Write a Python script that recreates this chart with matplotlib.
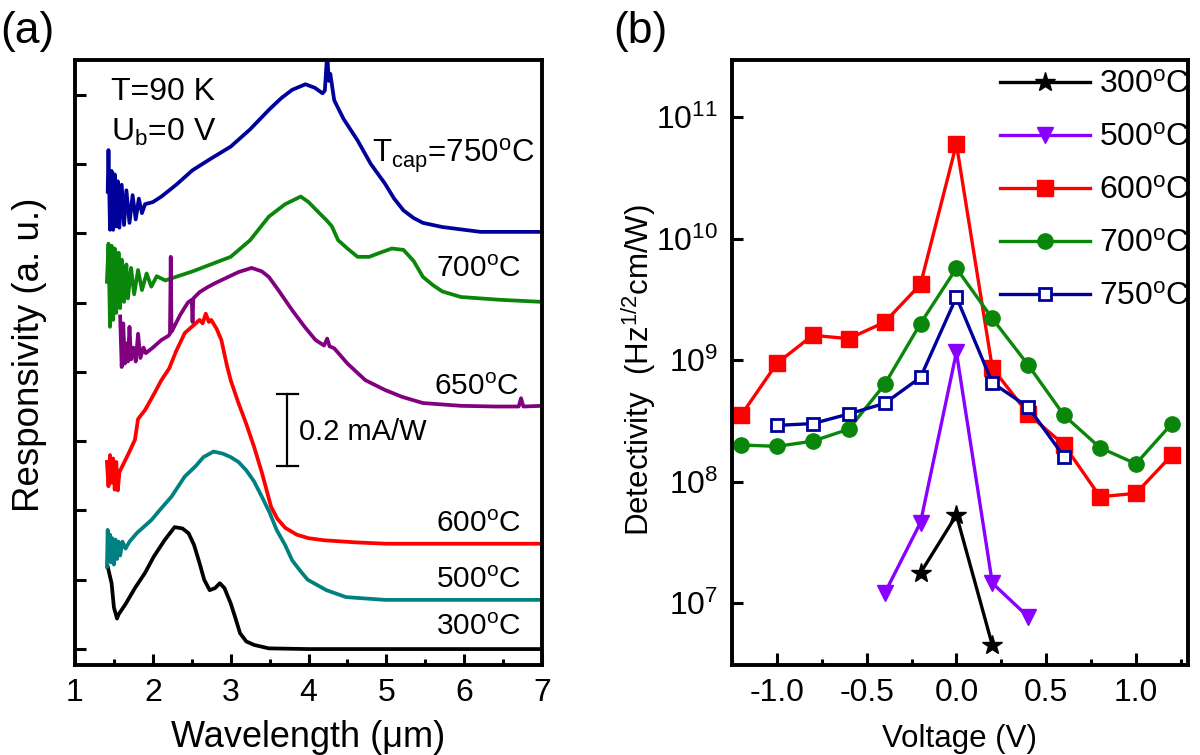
import matplotlib
matplotlib.use("Agg")
import matplotlib.pyplot as plt
import numpy as np
from matplotlib.ticker import MultipleLocator, NullLocator, FixedLocator

plt.rcParams["font.family"] = ["Liberation Sans", "DejaVu Sans"]
plt.rcParams["mathtext.fontset"] = "custom"
plt.rcParams["mathtext.rm"] = "Liberation Sans"
plt.rcParams["mathtext.it"] = "Liberation Sans:italic"
plt.rcParams["mathtext.bf"] = "Liberation Sans:bold"

# ---- panel (a): responsivity spectra, offset stacked (arbitrary units) ----
wl_300 = [1.42, 1.47, 1.50, 1.54, 1.56, 1.65, 1.77, 1.90, 2.01, 2.15, 2.28, 2.38, 2.46,
          2.53, 2.60, 2.66, 2.73, 2.80, 2.86, 2.92, 3.00, 3.06, 3.12, 3.20, 3.30, 3.49,
          4.00, 5.00, 6.00, 7.00]
r_300 = [1.19, 0.95, 0.60, 0.44, 0.50, 0.65, 0.88, 1.10, 1.33, 1.57, 1.76, 1.74, 1.67,
         1.50, 1.24, 1.00, 0.85, 0.88, 0.95, 0.88, 0.66, 0.45, 0.23, 0.11, 0.06, 0.01,
         0.00, 0.00, 0.00, 0.00]

wl_500 = [1.41, 1.42, 1.43, 1.45, 1.46, 1.48, 1.50, 1.52, 1.54, 1.56, 1.58, 1.61, 1.65,
          1.70, 1.80, 1.98, 2.10, 2.24, 2.41, 2.55, 2.65, 2.78, 2.90, 3.00, 3.10, 3.20,
          3.30, 3.40, 3.50, 3.59, 3.70, 3.79, 3.90, 3.99, 4.23, 4.48, 4.98, 5.50, 6.00,
          6.50, 7.00]
r_500 = [1.19, 1.72, 1.30, 1.65, 1.25, 1.60, 1.22, 1.58, 1.30, 1.55, 1.35, 1.55, 1.45,
         1.55, 1.68, 1.86, 2.02, 2.20, 2.49, 2.64, 2.77, 2.85, 2.82, 2.77, 2.70, 2.58,
         2.42, 2.20, 1.97, 1.72, 1.50, 1.28, 1.12, 1.00, 0.85, 0.75, 0.71, 0.71, 0.71,
         0.71, 0.71]

wl_600 = [1.41, 1.43, 1.45, 1.47, 1.49, 1.51, 1.53, 1.55, 1.57, 1.60, 1.70, 1.77, 1.81,
          1.90, 2.00, 2.11, 2.21, 2.30, 2.41, 2.50, 2.60, 2.64, 2.68, 2.72, 2.75, 2.82,
          2.88, 2.95, 3.00, 3.10, 3.20, 3.30, 3.40, 3.52, 3.60, 3.70, 3.85, 4.00, 4.20,
          4.60, 5.00, 6.00, 7.00]
r_600 = [2.70, 2.35, 2.80, 2.40, 2.75, 2.30, 2.70, 2.29, 2.55, 2.62, 2.85, 3.02, 3.32,
         3.45, 3.65, 3.88, 4.05, 4.30, 4.56, 4.65, 4.75, 4.70, 4.84, 4.72, 4.75, 4.62,
         4.46, 4.10, 3.88, 3.55, 3.25, 2.92, 2.55, 2.05, 1.88, 1.75, 1.65, 1.60, 1.57,
         1.54, 1.52, 1.52, 1.52]

wl_650 = [1.58, 1.60, 1.62, 1.64, 1.66, 1.68, 1.70, 1.72, 1.75, 1.78, 1.81, 1.84, 1.88,
          1.91, 2.00, 2.11, 2.20, 2.22, 2.23, 2.24, 2.26, 2.35, 2.45, 2.50, 2.51, 2.52,
          2.60, 2.70, 2.80, 2.95, 3.10, 3.27, 3.40, 3.49, 3.60, 3.79, 3.95, 4.09, 4.20,
          4.24, 4.27, 4.33, 4.50, 4.73, 4.98, 5.20, 5.47, 5.96, 6.40, 6.70, 6.73, 6.76,
          7.00]
r_650 = [4.80, 4.07, 4.70, 4.12, 4.41, 4.15, 4.65, 4.18, 4.35, 4.15, 4.55, 4.20, 4.35,
         4.27, 4.35, 4.46, 4.52, 4.55, 5.66, 4.58, 4.62, 4.82, 5.00, 5.04, 4.72, 5.06,
         5.15, 5.22, 5.28, 5.36, 5.44, 5.50, 5.45, 5.37, 5.20, 4.89, 4.65, 4.46, 4.38,
         4.48, 4.37, 4.34, 4.12, 3.88, 3.74, 3.64, 3.55, 3.51, 3.50, 3.50, 3.62, 3.50,
         3.51]

wl_700 = [1.41, 1.43, 1.45, 1.47, 1.49, 1.51, 1.53, 1.56, 1.58, 1.60, 1.63, 1.66, 1.68,
          1.72, 1.76, 1.81, 1.86, 1.92, 1.98, 2.05, 2.16, 2.51, 3.00, 3.25, 3.49, 3.70,
          3.90, 4.00, 4.14, 4.23, 4.30, 4.38, 4.50, 4.63, 4.78, 4.92, 5.07, 5.22, 5.35,
          5.47, 5.60, 5.72, 5.96, 6.46, 7.00]
r_700 = [5.30, 5.85, 4.65, 5.82, 4.75, 5.78, 4.85, 5.72, 4.92, 5.62, 5.01, 5.55, 5.06,
         5.50, 5.12, 5.47, 5.18, 5.42, 5.23, 5.38, 5.32, 5.45, 5.66, 5.90, 6.24, 6.42,
         6.53, 6.45, 6.29, 6.19, 6.10, 5.90, 5.78, 5.66, 5.66, 5.72, 5.78, 5.76, 5.60,
         5.37, 5.25, 5.16, 5.08, 5.04, 5.01]

wl_750 = [1.42, 1.43, 1.45, 1.47, 1.49, 1.51, 1.53, 1.55, 1.57, 1.60, 1.63, 1.66, 1.70,
          1.74, 1.78, 1.82, 1.86, 1.90, 2.00, 2.11, 2.30, 2.51, 2.75, 3.00, 3.25, 3.49,
          3.65, 3.79, 3.96, 4.08, 4.18, 4.21, 4.24, 4.26, 4.28, 4.33, 4.45, 4.63, 4.80,
          4.98, 5.10, 5.22, 5.35, 5.47, 5.72, 6.21, 6.60, 7.00]
r_750 = [6.60, 7.20, 6.05, 6.90, 6.05, 6.85, 6.10, 6.75, 6.08, 6.70, 6.12, 6.62, 6.15,
         6.55, 6.20, 6.50, 6.29, 6.42, 6.45, 6.53, 6.70, 6.91, 7.08, 7.25, 7.50, 7.78,
         7.95, 8.07, 8.15, 8.10, 8.02, 8.06, 8.60, 8.20, 8.30, 7.92, 7.65, 7.34, 7.00,
         6.72, 6.50, 6.33, 6.22, 6.15, 6.09, 6.02, 6.02, 6.02]

# ---- panel (b): detectivity vs bias ----
v_300 = [-0.2, 0.0, 0.2]
d_300 = [1.77e7, 5.3e7, 4.5e6]
v_500 = [-0.4, -0.2, 0.0, 0.2, 0.4]
d_500 = [1.2e7, 4.6e7, 1.16e9, 1.46e7, 7.7e6]
v_600 = [-1.2, -1.0, -0.8, -0.6, -0.4, -0.2, 0.0, 0.2, 0.4, 0.6, 0.8, 1.0, 1.2]
d_600 = [3.5e8, 9.4e8, 1.6e9, 1.5e9, 2.05e9, 4.2e9, 6.0e10, 8.6e8, 3.6e8, 2.0e8,
         7.5e7, 8.0e7, 1.65e8]
v_700 = [-1.2, -1.0, -0.8, -0.6, -0.4, -0.2, 0.0, 0.2, 0.4, 0.6, 0.8, 1.0, 1.2]
d_700 = [2.0e8, 1.95e8, 2.15e8, 2.7e8, 6.3e8, 2.0e9, 5.7e9, 2.2e9, 9.1e8, 3.5e8,
         1.9e8, 1.4e8, 3.0e8]
v_750 = [-1.0, -0.8, -0.6, -0.4, -0.2, 0.0, 0.2, 0.4, 0.6]
d_750 = [2.9e8, 3.0e8, 3.6e8, 4.4e8, 7.2e8, 3.3e9, 6.5e8, 4.1e8, 1.6e8]

c_blue = "#00009a"
c_green = "#0a870a"
c_purple = "#80007f"
c_red = "#ff0000"
c_teal = "#008080"
c_violet = "#8a00ff"

fig = plt.figure(figsize=(12, 7.55), dpi=100)
ax1 = fig.add_axes([0.0625, 0.1192, 0.3892, 0.8013])
ax2 = fig.add_axes([0.61, 0.1192, 0.38, 0.8013])

lw = 2.7
ax1.plot(wl_300, r_300, color="black", lw=lw)
ax1.plot(wl_500, r_500, color=c_teal, lw=lw)
ax1.plot(wl_600, r_600, color=c_red, lw=lw)
ax1.plot(wl_700, r_700, color=c_green, lw=lw)
ax1.plot(wl_650, r_650, color=c_purple, lw=lw)
ax1.plot(wl_750, r_750, color=c_blue, lw=lw)

ax1.set_xlim(1, 7)
ax1.set_ylim(-0.23, 8.5)
ax1.xaxis.set_major_locator(MultipleLocator(1))
ax1.xaxis.set_minor_locator(MultipleLocator(0.5))
ax1.yaxis.set_major_locator(FixedLocator(range(0, 9)))
ax1.set_yticklabels([])
ax1.tick_params(axis="x", which="major", direction="in", length=8, width=2.2,
                labelsize=23, pad=9)
ax1.tick_params(axis="x", which="minor", direction="in", length=4.5, width=2.2)
ax1.tick_params(axis="y", which="major", direction="in", length=8, width=2.2)
ax1.set_xlabel("Wavelength (\u03bcm)", fontsize=26, labelpad=9)
ax1.set_ylabel("Responsivity (a. u.)", fontsize=26.5)
ax1.yaxis.set_label_coords(-0.061, 0.512)

ax1.text(1.46, 7.92, "T=90 K", fontsize=23, ha="left", va="baseline")
ax1.text(1.46, 7.34, r"U$_{\mathrm{b}}$=0 V", fontsize=23, ha="left", va="baseline")
ax1.text(6.90, 7.01, r"T$_{\mathrm{cap}}$=750$^{\mathrm{o}}$C", fontsize=22.5,
         ha="right", va="baseline")
ax1.text(6.73, 5.37, r"700$^{\mathrm{o}}$C", fontsize=21.5, ha="right", va="baseline")
ax1.text(6.70, 3.67, r"650$^{\mathrm{o}}$C", fontsize=21.5, ha="right", va="baseline")
ax1.text(6.73, 1.69, r"600$^{\mathrm{o}}$C", fontsize=21.5, ha="right", va="baseline")
ax1.text(6.73, 0.88, r"500$^{\mathrm{o}}$C", fontsize=21.5, ha="right", va="baseline")
ax1.text(6.73, 0.20, r"300$^{\mathrm{o}}$C", fontsize=21.5, ha="right", va="baseline")

# scale bar
ax1.plot([3.72, 3.72], [2.64, 3.68], color="black", lw=1.6)
ax1.plot([3.59, 3.86], [2.64, 2.64], color="black", lw=1.6)
ax1.plot([3.59, 3.86], [3.68, 3.68], color="black", lw=1.6)
ax1.text(3.88, 3.01, "0.2 mA/W", fontsize=21, ha="left", va="baseline")

lw2 = 2.4
ax2.plot(v_300, d_300, color="black", lw=lw2, marker="*", ms=15, label=r"300$^{\mathrm{o}}$C")
ax2.plot(v_500, d_500, color=c_violet, lw=lw2, marker="v", ms=12, label=r"500$^{\mathrm{o}}$C")
ax2.plot(v_600, d_600, color=c_red, lw=lw2, marker="s", ms=11, label=r"600$^{\mathrm{o}}$C")
ax2.plot(v_700, d_700, color=c_green, lw=lw2, marker="o", ms=11, label=r"700$^{\mathrm{o}}$C")
ax2.plot(v_750, d_750, color=c_blue, lw=lw2, marker="s", ms=9, mfc="white", mew=2,
         label=r"750$^{\mathrm{o}}$C")

ax2.set_yscale("log")
ax2.set_xlim(-1.25, 1.29)
ax2.set_ylim(10 ** 6.49, 10 ** 11.47)
ax2.yaxis.set_major_locator(FixedLocator([1e7, 1e8, 1e9, 1e10, 1e11]))
ax2.yaxis.set_minor_locator(NullLocator())
ax2.xaxis.set_major_locator(FixedLocator([-1.0, -0.5, 0.0, 0.5, 1.0]))
ax2.xaxis.set_minor_locator(MultipleLocator(0.25))
ax2.set_xticklabels(["-1.0", "-0.5", "0.0", "0.5", "1.0"])
ax2.tick_params(axis="x", which="major", direction="in", length=9, width=2.2,
                labelsize=23, pad=9)
ax2.tick_params(axis="x", which="minor", direction="in", length=4.5, width=2.2)
ax2.tick_params(axis="y", which="major", direction="in", length=8, width=2.2,
                labelsize=23, pad=10)
ax2.set_xlabel("Voltage (V)", fontsize=22.5, labelpad=12)
ax2.set_ylabel(r"Detectivity  (Hz$^{1/2}$cm/W)", fontsize=22.5)
ax2.yaxis.set_label_coords(-0.162, 0.488)

ax2.legend(loc="upper right", bbox_to_anchor=(1.005, 0.983), frameon=False,
           fontsize=23, handlelength=2.8, handletextpad=0.3, labelspacing=0.72,
           borderaxespad=0.0, borderpad=0.0)

for ax in (ax1, ax2):
    for s in ax.spines.values():
        s.set_linewidth(2.8)

fig.text(0.0, 1 - 31 / 755, "(a)", fontsize=32, ha="left", va="center")
fig.text(0.511, 1 - 31 / 755, "(b)", fontsize=32, ha="left", va="center")

fig.savefig("out.png", dpi=100)
